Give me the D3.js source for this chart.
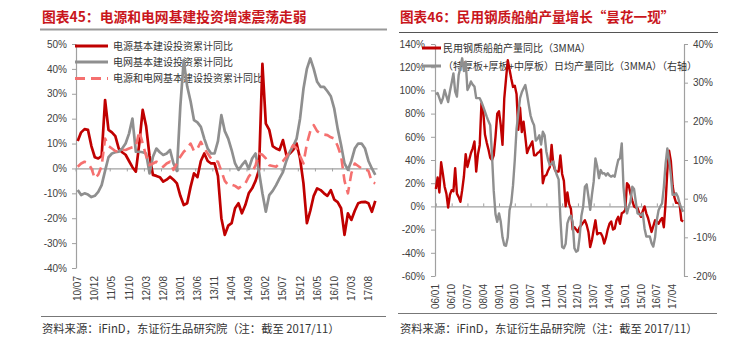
<!DOCTYPE html>
<html><head><meta charset="utf-8">
<script src="https://cdn.jsdelivr.net/npm/d3@7"></script>
<style>
body{margin:0;background:#fff;}
svg{display:block;font-family:"Liberation Sans",Arial,sans-serif;}
.cjk{font-family:"Noto Sans CJK SC","Noto Sans",sans-serif;}
</style></head><body>
<svg id="c" width="752" height="359"></svg>
<script>
// ---------- DATA ----------
function monthRange(y0,m0,y1,m1){const out=[];let y=y0,m=m0;while(y<y1||(y===y1&&m<=m1)){out.push(String(y%100).padStart(2,"0")+"/"+String(m).padStart(2,"0"));m++;if(m>12){m=1;y++;}}return out;}

// Chart 45 (left)
const leftCategories = monthRange(2010,7,2017,10);
const leftTickLabels = ["10/07","10/12","11/05","11/10","12/03","12/08","13/01","13/06","13/11","14/04","14/09","15/02","15/07","15/12","16/05","16/10","17/03","17/08"];
const leftYTicks = [-40,-30,-20,-10,0,10,20,30,40,50];
const leftSeriesNames = ["电源基本建设投资累计同比","电网基本建设投资累计同比","电源和电网基本建设投资累计同比"];
const powerSource = [11,14.5,15.8,15.5,9,4.5,4,5,27.5,15.5, 14.5,13,8,6.5,5.5,3,0.5,-1.3,10,23.5, 17,5,-2.6,-3,-3.5,-5.3,-4.5,-3.3,-4.5,-6, -11,-14.7,-14,-7.4,-2,-3.5,3,6,3,2, 2,-3,-20,-26.7,-23,-22,-16,-14,-18,-14.7, -10,-8,-5,-0.6,42,18,15.5,9,8,7.4, 11.4,5.4,6,7.5,10,4,-6,-22,-17,-11, -8,-8.7,-10,-11,-8.7,-12.5,-13.5,-16,-26.7,-18, -20.7,-17,-14,-13.5,-13.4,-14,-17.4,-13];
const powerGrid = [-8.7,-10.7,-10,-10.5,-11.5,-11,-9.4,-6.7,-1,4.5, 6,6.5,6.7,8,10,14,20,6.7,6.7,6.5, 6,-2,4.7,8,6.5,5.4,6,7.4,2,-1, 25,43.5,33,27,19.4,18.5,16.7,12,8,6, 6,11,21.4,15,12,7.4,2,-0.6,1.3,3, -0.2,4,6,-1.3,-10,-17.4,-10.7,-9,-6.7,-4, -1.5,3,6.7,9,12,20,32,40,44.2,40, 34.8,32.8,32.8,31,29,24,16,9.4,2,-0.6, 3,8,10,10,8,3,0,-2.6];
const powerTotal = [0.7,2,2.7,2.2,0,-4,-2.5,1,12,9, 8,7,6.7,7.4,7.4,8,8.5,8.7,15,10, 5,1.3,2,2.7,2,0.7,2,2.7,-0.6,2, 4.7,6.7,8,10,7,8,10.7,8,6,4, 3,2.7,-1,-5,-6.7,-6.5,-7,-8,-7,-6, -3.3,-1.5,1.3,6,5.5,4,1.3,1,0.7,2, 3,4.7,7,9.4,8,5,2,10,15,17.4, 15,14,13.6,13.4,12.5,12,9,5,-5,-10, -2,2,1,0,0,-1,-5.5,-6];

// Chart 46 (right)
const rightCategories = monthRange(2006,1,2017,10);
const rightTickLabels = ["06/01","06/10","07/07","08/04","09/01","09/10","10/07","11/04","12/01","12/10","13/07","14/04","15/01","15/10","16/07","17/04"];
const rightYTicksLeft = [-60,-40,-20,0,20,40,60,80,100,120,140];
const rightYTicksRight = [-20,-10,0,10,20,30,40];
const rightSeriesNames = ["民用钢质船舶产量同比（3MMA）","（特厚板+厚板+中厚板）日均产量同比（3MMA）（右轴）"];
const shipOutput = [15,25,12,38,28,17,11,-1,10,14, 13,33,11,8,4,14,26,45,34,40, 46,50,56,30,45,53,89,82,62,55, 49,42,40,44,60,80,82,70,53,93, 110,126,118,110,103,104,97,66,85,64, 73,60,46,50,53,56,44,44,46,47, 49,20,26,27,31,34,53,36,31,30, 30,44,28,22,0,12,2,-2,-20,-18, -20,-22,-18,-16,-14,-12,-16,-22,-35,-29, -20,-12,-24,-23,-23,-26,-32,-27,-20,-15, -13,-20,-19,-12,-9,-15,-6,-5,-3,20, 18,11,5,0,-1,-1.5,-6,-9,-4,0, -6,-10,-16,-22,-17,-12,-13,-15,-12,-10, -18,3,31,48,39,18,8,3,3,2, -12,-13];
const plateOutput = [27,27.3,26,24.7,26,28.1,26.5,25,27.7,30, 32.4,27.7,26.4,32,34,36.3,33,35.4,28.1,29, 30.3,29.5,29,26,26,26,25,23.8,22.5,21.2, 20,19,11.3,2,-4,-6,-3.8,-6,-10,-12, -12.2,-10,-3,-1,3.5,10,18,22,26,27.5, 28.5,29.4,27,24.2,21.5,20,19,15,15.5,16.4, 14,17.3,16.4,12.2,10,8.7,9,9.6,7.5,6.1, 5,-5,-12.5,-12.8,-11.7,-6.4,-5,-4.4,-6,-12.8, -13.7,-13.4,-9.8,-4.4,-2,3.1,3.7,0.5,-2.9,1, 4.4,10.4,8.3,5.3,7.4,6.5,6.6,6,6.6,6, 5.7,6,5.7,8,10,10.4,14.3,3,-2,-3.8, -2,-0.8,3.1,2.5,-0.8,-3.8,-4,-4.3,-3.8,-7.7, -9.8,-9.8,-9.8,-11.5,-12.4,-10,-5.5,-3,-2,-1.2, 3,9,13,10,6.1,1,1,1.4,0.5,-1.2, -2.5,-3.4];

const titles = ["图表45：电源和电网基建投资增速震荡走弱","图表46：民用钢质船舶产量增长“昙花一现”"];
const sourceText = "资料来源：iFinD，东证衍生品研究院（注：截至 2017/11）";

// ---------- STYLE ----------
const RED="#C00000", GRAY="#8F8F8F", PINK="#F5706F", AXIS="#A0A0A0", TXT="#404040", TITLE="#C9161C";
const svg = d3.select("#c");
const pct = d=>d+"%";

// ---------- HEADER / FOOTER ----------
svg.append("text").attr("class","cjk").attr("x",42).attr("y",21.5).attr("font-size",13.8).attr("font-weight","bold").attr("fill",TITLE).text(titles[0]);
svg.append("text").attr("class","cjk").attr("x",400).attr("y",21.5).attr("font-size",13.6).attr("font-weight","bold").attr("fill",TITLE).text(titles[1]);
svg.append("line").attr("x1",40).attr("x2",387).attr("y1",29.5).attr("y2",29.5).attr("stroke","#999").attr("stroke-width",2);
svg.append("line").attr("x1",399).attr("x2",718).attr("y1",32.5).attr("y2",32.5).attr("stroke","#555").attr("stroke-width",1);
svg.append("line").attr("x1",41).attr("x2",386).attr("y1",316.5).attr("y2",316.5).attr("stroke","#777").attr("stroke-width",1.2);
svg.append("line").attr("x1",398).attr("x2",717).attr("y1",313.5).attr("y2",313.5).attr("stroke","#777").attr("stroke-width",1.2);
svg.append("text").attr("class","cjk").attr("x",42).attr("y",333).attr("font-size",11.3).attr("fill","#333").text(sourceText);
svg.append("text").attr("class","cjk").attr("x",400).attr("y",333).attr("font-size",11.3).attr("fill","#333").text(sourceText);

function styleAxis(g){
  g.selectAll("path.domain").attr("stroke",AXIS).attr("stroke-width",1.2);
  g.selectAll(".tick line").attr("stroke",AXIS);
  g.selectAll(".tick text").attr("fill",TXT).attr("font-size",10).attr("font-family","Liberation Sans, Arial, sans-serif");
}

// ---------- LEFT CHART ----------
{
  const x = d3.scalePoint().domain(leftCategories).range([76,377]).padding(0.5);
  const y = d3.scaleLinear().domain([-40,50]).range([268,44]);
  const g = svg.append("g");
  const xa = g.append("g").attr("transform",`translate(0,${y(0)})`)
    .call(d3.axisBottom(x).tickValues(leftTickLabels).tickSize(3).tickSizeOuter(0).tickFormat(""));
  xa.selectAll(".tick").attr("transform",d=>`translate(${x(d)-x.step()/2},0)`);
  styleAxis(xa);
  const ya = g.append("g").attr("transform","translate(76,0)")
    .call(d3.axisLeft(y).tickValues(leftYTicks).tickSize(4).tickSizeOuter(0).tickPadding(5).tickFormat(pct));
  styleAxis(ya);
  g.append("g").selectAll("text").data(leftTickLabels).join("text")
    .attr("transform",d=>`translate(${x(d)},276) rotate(-90)`)
    .attr("text-anchor","end").attr("dy","0.35em").attr("font-size",10).attr("fill",TXT).text(d=>d);
  const lg = [ {c:RED,dash:null}, {c:GRAY,dash:null}, {c:PINK,dash:"10,6"} ];
  const ly = [46,62,78.5];
  lg.forEach((s,i)=>{
    g.append("line").attr("x1",75).attr("x2",108).attr("y1",ly[i]).attr("y2",ly[i]).attr("stroke",s.c).attr("stroke-width",3).attr("stroke-dasharray",s.dash);
    g.append("text").attr("class","cjk").attr("x",113).attr("y",ly[i]).attr("dy","0.35em").attr("font-size",10).attr("fill","#333").text(leftSeriesNames[i]);
  });
  const line = d3.line().x((d,i)=>x(leftCategories[i])).y(d=>y(d));
  g.append("path").datum(powerSource).attr("d",line).attr("fill","none").attr("stroke",RED).attr("stroke-width",2.7).attr("stroke-linejoin","round");
  g.append("path").datum(powerGrid).attr("d",line).attr("fill","none").attr("stroke",GRAY).attr("stroke-width",2.7).attr("stroke-linejoin","round");
  g.append("path").datum(powerTotal).attr("d",line).attr("fill","none").attr("stroke",PINK).attr("stroke-width",2.6).attr("stroke-dasharray","10,6").attr("stroke-linejoin","round");
}

// ---------- RIGHT CHART ----------
{
  const x = d3.scalePoint().domain(rightCategories).range([435,684]).padding(0.5);
  const yL = d3.scaleLinear().domain([-60,140]).range([276,44]);
  const yR = d3.scaleLinear().domain([-20,40]).range([276,44]);
  const g = svg.append("g");
  const xa = g.append("g").attr("transform",`translate(0,${yL(0)})`)
    .call(d3.axisTop(x).tickValues(rightTickLabels).tickSize(3).tickSizeOuter(0).tickFormat(""));
  styleAxis(xa);
  const ya = g.append("g").attr("transform","translate(435,0)")
    .call(d3.axisLeft(yL).tickValues(rightYTicksLeft).tickSize(4).tickSizeOuter(0).tickPadding(6).tickFormat(pct));
  styleAxis(ya);
  const yb = g.append("g").attr("transform","translate(684,0)")
    .call(d3.axisRight(yR).tickValues(rightYTicksRight).tickSize(4).tickSizeOuter(0).tickPadding(5).tickFormat(pct));
  styleAxis(yb);
  g.append("g").selectAll("text").data(rightTickLabels).join("text")
    .attr("transform",d=>`translate(${x(d)},284) rotate(-90)`)
    .attr("text-anchor","end").attr("dy","0.35em").attr("font-size",10).attr("fill",TXT).text(d=>d);
  const cols=[RED,GRAY], ly=[48,66];
  cols.forEach((c,i)=>{
    g.append("line").attr("x1",422).attr("x2",441).attr("y1",ly[i]).attr("y2",ly[i]).attr("stroke",c).attr("stroke-width",3);
    g.append("text").attr("class","cjk").attr("x",443).attr("y",ly[i]).attr("dy","0.35em").attr("font-size",10).attr("fill","#333").text(rightSeriesNames[i]);
  });
  const lineL = d3.line().x((d,i)=>x(rightCategories[i])).y(d=>yL(d));
  const lineR = d3.line().x((d,i)=>x(rightCategories[i])).y(d=>yR(d));
  g.append("path").datum(shipOutput).attr("d",lineL).attr("fill","none").attr("stroke",RED).attr("stroke-width",2.4).attr("stroke-linejoin","round");
  g.append("path").datum(plateOutput).attr("d",lineR).attr("fill","none").attr("stroke",GRAY).attr("stroke-width",2.4).attr("stroke-linejoin","round");
}
</script>
</body></html>
